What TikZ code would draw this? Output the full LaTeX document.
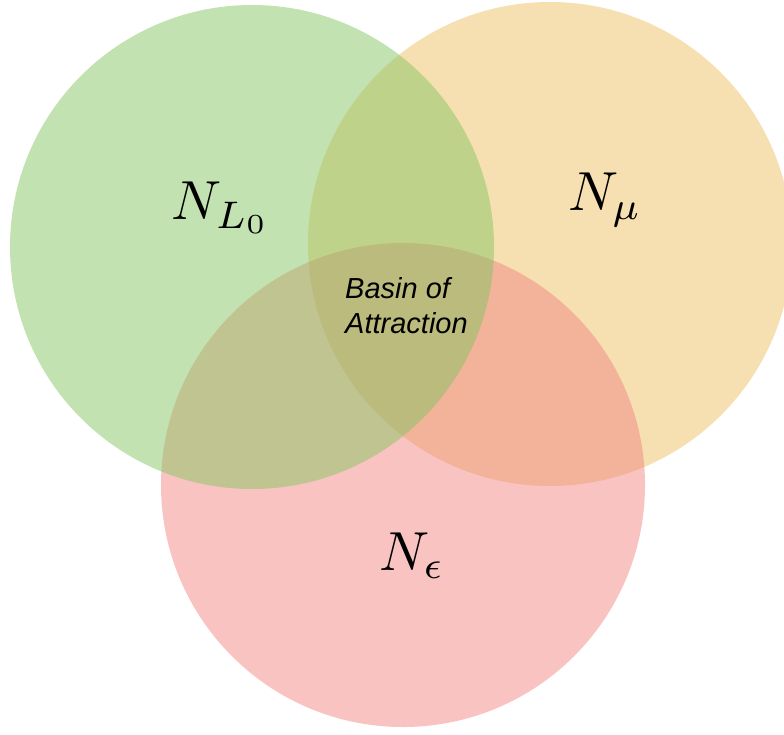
\documentclass[tikz,border=0pt]{standalone}
\usepackage{graphicx}
\usepackage{fontspec}
\newfontfamily\labelfont{Liberation Sans}
\definecolor{cgreen}{RGB}{135,197,99}
\definecolor{corange}{RGB}{237,193,101}
\definecolor{cred}{RGB}{241,135,131}
\newcommand{\biglab}[1]{\scalebox{5.5}{$#1$}}
\begin{document}
\begin{tikzpicture}[x=1pt,y=-1pt,
  setcircle/.style={draw=none,fill opacity=0.5},
  biglabel/.style={inner sep=0pt},
  smalllabel/.style={inner sep=0pt,align=left,font=\labelfont\itshape\fontsize{29}{35}\selectfont}]
\useasboundingbox (0,0) rectangle (784,734);
\fill[setcircle,fill=corange] (550,244) circle[radius=242];
\fill[setcircle,fill=cred] (403,485) circle[radius=242];
\fill[setcircle,fill=cgreen] (252,247) circle[radius=242];
\node[biglabel] (nl) at (221,208) {\biglab{N_{L_0}}};
\node[biglabel] (nm) at (605,200) {\biglab{N_{\mu}}};
\node[biglabel] (ne) at (412,556) {\biglab{N_{\epsilon}}};
\node[smalllabel,anchor=north west] (ba) at (345,277) {Basin of\\Attraction};
\end{tikzpicture}
\end{document}
